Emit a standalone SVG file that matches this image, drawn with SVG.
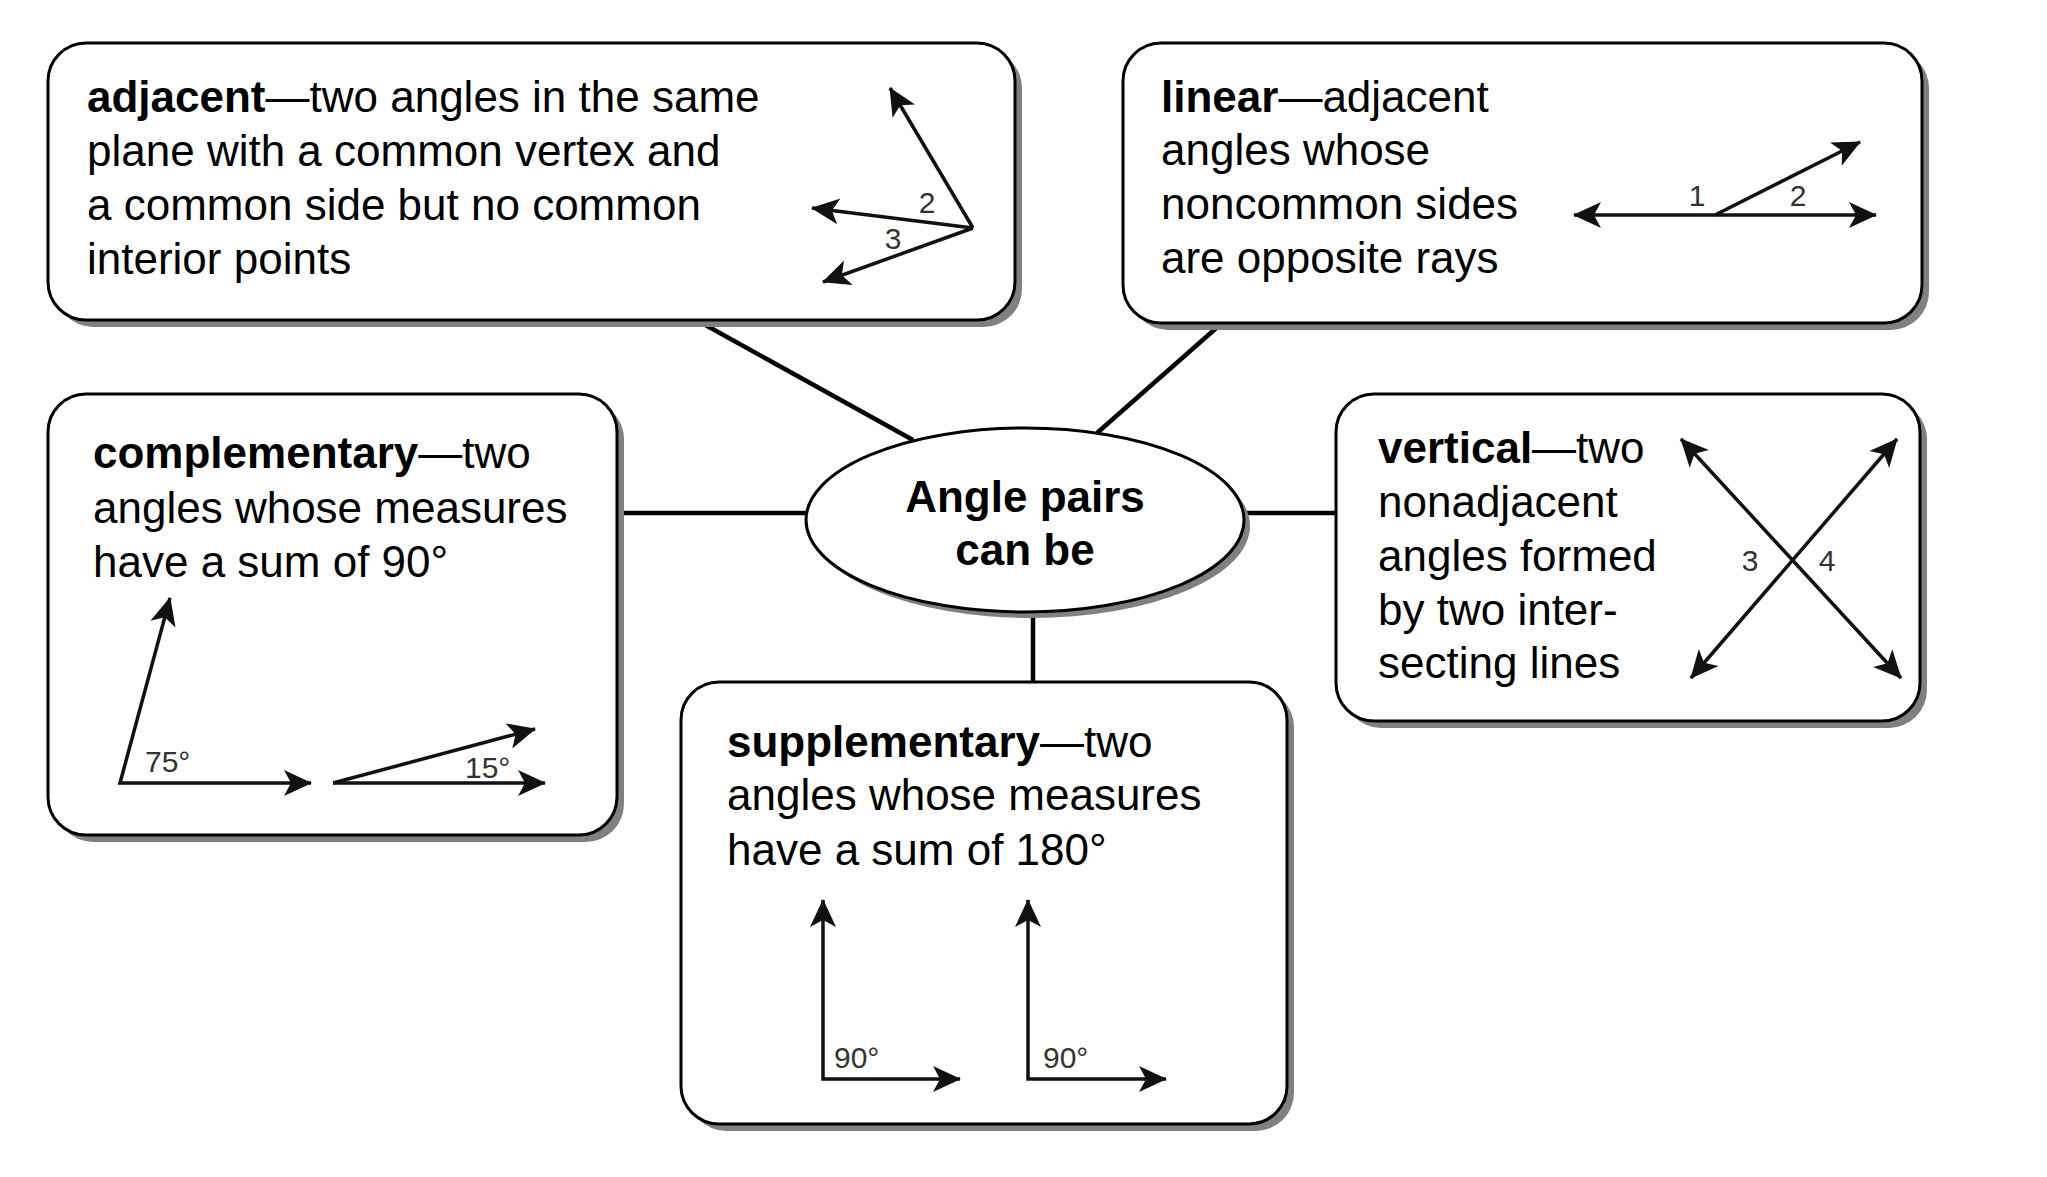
<svg xmlns="http://www.w3.org/2000/svg" width="2047" height="1177" viewBox="0 0 2047 1177">
<style>
.box{fill:#fff;stroke:#000;stroke-width:3}
.shadow{fill:#808080}
.txt{font-family:"Liberation Sans",Arial,sans-serif;font-size:44px;fill:#000}
.b{font-weight:bold}
.conn{stroke:#000;stroke-width:4.5;fill:none}
.fig{stroke:#111;stroke-width:3.5;fill:none}
.arr{marker-end:url(#ah)}
.arr2{marker-start:url(#ah);marker-end:url(#ah)}
.lbl{font-family:"Liberation Sans",Arial,sans-serif;font-size:30px;fill:#333}
</style>
<defs>
<marker id="ah" markerUnits="userSpaceOnUse" orient="auto-start-reverse" refX="0" refY="0" viewBox="-30 -15 32 30" markerWidth="32" markerHeight="30" overflow="visible">
<path d="M1,0 L-27,-13 L-20,0 L-27,13 Z" fill="#111"/>
</marker>
</defs>
<rect width="2047" height="1177" fill="#fff"/>

<g id="connectors">
<line class="conn" x1="700" y1="322" x2="913" y2="440"/>
<line class="conn" x1="1222" y1="323" x2="1097" y2="433"/>
<line class="conn" x1="617" y1="513" x2="807" y2="513"/>
<line class="conn" x1="1244" y1="513" x2="1336" y2="513"/>
<line class="conn" x1="1033" y1="612" x2="1033" y2="682"/>
</g>

<g id="center">
<ellipse class="shadow" cx="1031" cy="526" rx="219" ry="92"/>
<ellipse class="box" cx="1025" cy="520" rx="219" ry="92"/>
<text class="txt b" x="1025" y="512" text-anchor="middle">Angle pairs</text>
<text class="txt b" x="1025" y="565" text-anchor="middle">can be</text>
</g>

<g id="adjacent">
<rect class="shadow" x="55" y="50" width="967" height="277" rx="38"/>
<rect class="box" x="48" y="43" width="967" height="277" rx="38"/>
<text class="txt" x="87" y="112"><tspan class="b">adjacent</tspan>—two angles in the same</text>
<text class="txt" x="87" y="166">plane with a common vertex and</text>
<text class="txt" x="87" y="220">a common side but no common</text>
<text class="txt" x="87" y="274">interior points</text>
<line class="fig arr" x1="973" y1="228" x2="890" y2="88"/>
<line class="fig arr" x1="973" y1="228" x2="812" y2="208"/>
<line class="fig arr" x1="973" y1="228" x2="823" y2="282"/>
<text class="lbl" x="927" y="213" text-anchor="middle">2</text>
<text class="lbl" x="893" y="249" text-anchor="middle">3</text>
</g>

<g id="linear">
<rect class="shadow" x="1130" y="50" width="799" height="280" rx="38"/>
<rect class="box" x="1123" y="43" width="799" height="280" rx="38"/>
<text class="txt" x="1161" y="112"><tspan class="b">linear</tspan>—adjacent</text>
<text class="txt" x="1161" y="165">angles whose</text>
<text class="txt" x="1161" y="219">noncommon sides</text>
<text class="txt" x="1161" y="273">are opposite rays</text>
<line class="fig arr2" x1="1574" y1="215" x2="1876" y2="215"/>
<line class="fig arr" x1="1715" y1="215" x2="1860" y2="142"/>
<text class="lbl" x="1697" y="206" text-anchor="middle">1</text>
<text class="lbl" x="1798" y="206" text-anchor="middle">2</text>
</g>

<g id="complementary">
<rect class="shadow" x="55" y="401" width="569" height="441" rx="38"/>
<rect class="box" x="48" y="394" width="569" height="441" rx="38"/>
<text class="txt" x="93" y="468"><tspan class="b">complementary</tspan>—two</text>
<text class="txt" x="93" y="523">angles whose measures</text>
<text class="txt" x="93" y="577">have a sum of 90°</text>
<polyline class="fig arr" points="170,598 120,783 311,783" style="marker-start:url(#ah)"/>
<line class="fig arr" x1="333" y1="783" x2="535" y2="729"/>
<line class="fig arr" x1="333" y1="783" x2="545" y2="783"/>
<text class="lbl" x="145" y="772">75°</text>
<text class="lbl" x="465" y="778">15°</text>
</g>

<g id="vertical">
<rect class="shadow" x="1343" y="401" width="584" height="327" rx="38"/>
<rect class="box" x="1336" y="394" width="584" height="327" rx="38"/>
<text class="txt" x="1378" y="463"><tspan class="b">vertical</tspan>—two</text>
<text class="txt" x="1378" y="517">nonadjacent</text>
<text class="txt" x="1378" y="571">angles formed</text>
<text class="txt" x="1378" y="625">by two inter-</text>
<text class="txt" x="1378" y="678">secting lines</text>
<line class="fig arr2" x1="1681" y1="439" x2="1901" y2="678"/>
<line class="fig arr2" x1="1691" y1="678" x2="1897" y2="439"/>
<text class="lbl" x="1750" y="571" text-anchor="middle">3</text>
<text class="lbl" x="1827" y="571" text-anchor="middle">4</text>
</g>

<g id="supplementary">
<rect class="shadow" x="688" y="689" width="606" height="442" rx="38"/>
<rect class="box" x="681" y="682" width="606" height="442" rx="38"/>
<text class="txt" x="727" y="757"><tspan class="b">supplementary</tspan>—two</text>
<text class="txt" x="727" y="810">angles whose measures</text>
<text class="txt" x="727" y="865">have a sum of 180°</text>
<polyline class="fig arr" points="823,900 823,1079 960,1079" style="marker-start:url(#ah)"/>
<polyline class="fig arr" points="1028,900 1028,1079 1166,1079" style="marker-start:url(#ah)"/>
<text class="lbl" x="834" y="1068">90°</text>
<text class="lbl" x="1043" y="1068">90°</text>
</g>
</svg>
